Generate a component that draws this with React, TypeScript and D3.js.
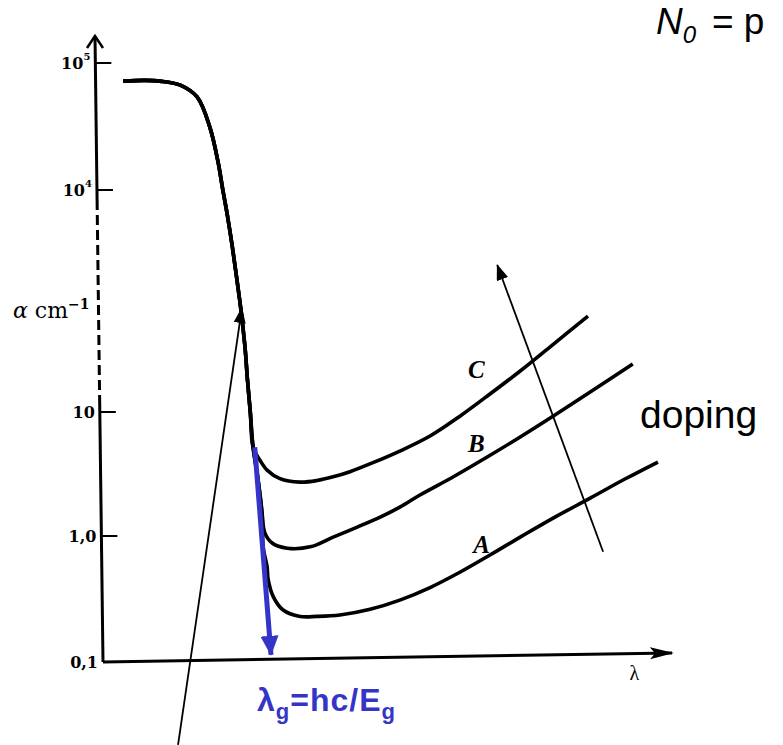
import * as d3 from "d3";

// absorption edge shared by all three samples (lambda in arbitrary units, alpha in cm^-1)
const lambdaEdge = [0.36, 0.75, 1.02, 1.38, 1.68, 1.91, 2.05, 2.14, 2.22, 2.31, 2.38, 2.44, 2.49, 2.54, 2.58, 2.63, 2.68];
const alphaEdge = [72000, 73000, 72000, 67000, 54000, 31000, 17000, 10000, 4600, 1700, 710, 330, 160, 69, 27, 10, 5.2];

// lower part of the edge, shared by A and B
const lambdaStem = [2.77, 2.84];
const alphaStem = [2.83, 1.53];

const lambdaC = [2.8, 2.93, 3.16, 3.52, 3.82, 4.11, 4.41, 4.82, 5.3, 5.84, 6.38, 6.91, 7.45, 7.98, 8.66];
const alphaC = [4.1, 3.4, 2.9, 2.72, 2.8, 3.0, 3.3, 3.9, 4.84, 6.4, 9.3, 17.5, 35.8, 75.5, 198];

const lambdaB = [2.89, 3.02, 3.29, 3.7, 4.11, 4.54, 4.95, 5.3, 5.66, 6.25, 6.86, 7.45, 8.07, 8.7, 9.46];
const alphaB = [1.06, 0.88, 0.8, 0.82, 0.98, 1.18, 1.42, 1.71, 2.14, 2.99, 4.33, 6.29, 9.46, 18.6, 44.6];

const lambdaA = [2.86, 2.93, 2.95, 3.04, 3.21, 3.52, 3.82, 4.23, 4.77, 5.3, 5.84, 6.38, 6.91, 7.45, 8.07, 8.7, 9.32, 9.91];
const alphaA = [0.82, 0.57, 0.45, 0.33, 0.26, 0.23, 0.23, 0.236, 0.262, 0.31, 0.39, 0.518, 0.707, 0.98, 1.42, 2.02, 2.88, 3.95];

const curveNames = ["C", "B", "A"];
const labelLambda = [6.52, 6.52, 6.61];
const labelAlpha = [28.8, 4.75, 0.73];

const tickValues = [1e5, 1e4, 10, 1, 0.1];
const tickBase = ["10", "10", "10", "1,0", "0,1"];
const tickExp = ["5", "4", "", "", ""];

// annotation arrows [lambda, alpha] tail -> tip
const edgeArrow = [[1.34, 0.022], [2.48, 254]];
const dopingArrow = [[8.93, 0.75], [7.04, 968]];
const gapArrow = [[2.71, 5.2], [3.0, 0.114]];

const W = 783;
const H = 745;
const blue = "#3434c8";
const serif = "'DejaVu Serif', 'Liberation Serif', serif";
const italicSerif = "'Liberation Serif', 'Times New Roman', serif";
const sans = "'Liberation Sans', Arial, Helvetica, sans-serif";

const x = d3.scaleLinear().domain([0, 10]).range([103, 663]);
// the printed axis is broken between 10^4 and 10
const y = d3.scaleLog().domain([0.1, 1, 10, 1e4, 1e5]).range([662, 536, 412, 190, 63]);

const zip = (a: number[], b: number[]) => a.map((v, i) => [v, b[i]] as [number, number]);

const series = [
  zip([...lambdaEdge, ...lambdaC], [...alphaEdge, ...alphaC]),
  zip([...lambdaEdge, ...lambdaStem, ...lambdaB], [...alphaEdge, ...alphaStem, ...alphaB]),
  zip([...lambdaEdge, ...lambdaStem, ...lambdaA], [...alphaEdge, ...alphaStem, ...alphaA]),
];

const line = d3
  .line<[number, number]>()
  .x((d) => x(d[0]))
  .y((d) => y(d[1]))
  .curve(d3.curveCatmullRom.alpha(0.5));

// scanned axis leans a little
const axisTop = 36;
const axisBottom = y(0.1);
const axisX = (py: number) => 95 + ((py - axisTop) * 8) / (axisBottom - axisTop);

const arrowPath = (a: number[][]) => `M${x(a[0][0])},${y(a[0][1])}L${x(a[1][0])},${y(a[1][1])}`;

export default function App() {
  const dashTop = y(1e4) + 10;
  const dashBottom = y(10) - 10;
  const xEnd = x(10) + 9;
  const xEndY = axisBottom - 9;
  return (
    <svg width={W} height={H} style={{ position: "absolute", left: 0, top: 0, background: "#fff" }}>
      <defs>
        <marker id="headBlack" markerUnits="userSpaceOnUse" markerWidth={16} markerHeight={12} refX={15} refY={6} orient="auto">
          <path d="M0,0L16,6L0,12Z" fill="#000" />
        </marker>
        <marker id="headBlue" markerUnits="userSpaceOnUse" markerWidth={20} markerHeight={18} refX={19} refY={9} orient="auto">
          <path d="M0,0L20,9L0,18Z" fill={blue} />
        </marker>
        <marker id="headAxis" markerUnits="userSpaceOnUse" markerWidth={24} markerHeight={14} refX={22} refY={7} orient="auto">
          <path d="M0,1L24,7L0,13L5,7Z" fill="#000" />
        </marker>
      </defs>

      {/* y axis */}
      <path d={`M${axisX(axisTop)},${axisTop}L${axisX(dashTop)},${dashTop}`} stroke="#000" strokeWidth={3} fill="none" />
      <path
        d={`M${axisX(dashTop)},${dashTop}L${axisX(dashBottom)},${dashBottom}`}
        stroke="#000"
        strokeWidth={3}
        strokeDasharray="10 5"
        fill="none"
      />
      <path d={`M${axisX(dashBottom)},${dashBottom}L${axisX(axisBottom)},${axisBottom}`} stroke="#000" strokeWidth={3} fill="none" />
      <path
        d={`M${axisX(axisTop) - 8},${axisTop + 12}L${axisX(axisTop)},${axisTop}L${axisX(axisTop) + 8},${axisTop + 12}`}
        stroke="#000"
        strokeWidth={2.5}
        fill="none"
      />

      {/* x axis */}
      <path d={`M${axisX(axisBottom)},${axisBottom}L${xEnd},${xEndY}`} stroke="#000" strokeWidth={3} fill="none" markerEnd="url(#headAxis)" />
      <text x={x(9.4)} y={axisBottom + 18} fontFamily={italicSerif} fontSize={20}>
        λ
      </text>

      {/* ticks */}
      {tickValues.map((v, i) => {
        const py = y(v);
        const ax = axisX(py);
        return (
          <g key={i}>
            {v > 0.1 && <line x1={ax} x2={ax + 16} y1={py} y2={py} stroke="#000" strokeWidth={2} />}
            <text x={ax - 5} y={py + 6} textAnchor="end" fontFamily={serif} fontSize={16} fontWeight={700}>
              {tickBase[i]}
              {tickExp[i] && (
                <tspan fontSize={10} dy={-9}>
                  {tickExp[i]}
                </tspan>
              )}
            </text>
          </g>
        );
      })}

      <text x={13} y={318} fontFamily={serif} fontSize={22}>
        <tspan fontStyle="italic">α</tspan> cm
        <tspan fontSize={14} dy={-9} fontWeight={700}>
          −1
        </tspan>
      </text>

      {/* curves */}
      {series.map((s, i) => (
        <path key={i} d={line(s) || ""} stroke="#000" strokeWidth={3.6} fill="none" strokeLinejoin="round" />
      ))}
      {curveNames.map((n, i) => (
        <text key={n} x={x(labelLambda[i])} y={y(labelAlpha[i])} fontFamily={italicSerif} fontStyle="italic" fontWeight={700} fontSize={25}>
          {n}
        </text>
      ))}

      {/* annotations */}
      <path d={arrowPath(edgeArrow)} stroke="#000" strokeWidth={1.8} fill="none" markerEnd="url(#headBlack)" />
      <path d={arrowPath(dopingArrow)} stroke="#000" strokeWidth={1.8} fill="none" markerEnd="url(#headBlack)" />
      <path d={arrowPath(gapArrow)} stroke={blue} strokeWidth={5} fill="none" markerEnd="url(#headBlue)" />

      <text x={640} y={428} fontFamily={sans} fontSize={39}>
        doping
      </text>

      <text x={x(2.75)} y={axisBottom + 49} fontFamily={sans} fontSize={32} fontWeight={700} fill={blue} letterSpacing={1}>
        λ<tspan fontSize={22} dy={8}>g</tspan>
        <tspan dy={-8}>=hc/E</tspan>
        <tspan fontSize={22} dy={8}>g</tspan>
      </text>

      <text x={656} y={34} fontFamily={sans} fontSize={37}>
        <tspan fontStyle="italic">N</tspan>
        <tspan fontStyle="italic" fontSize={24} dy={9}>
          0
        </tspan>
        <tspan dy={-9} dx={16}>
          =
        </tspan>
        <tspan dx={10}>p</tspan>
      </text>
    </svg>
  );
}
